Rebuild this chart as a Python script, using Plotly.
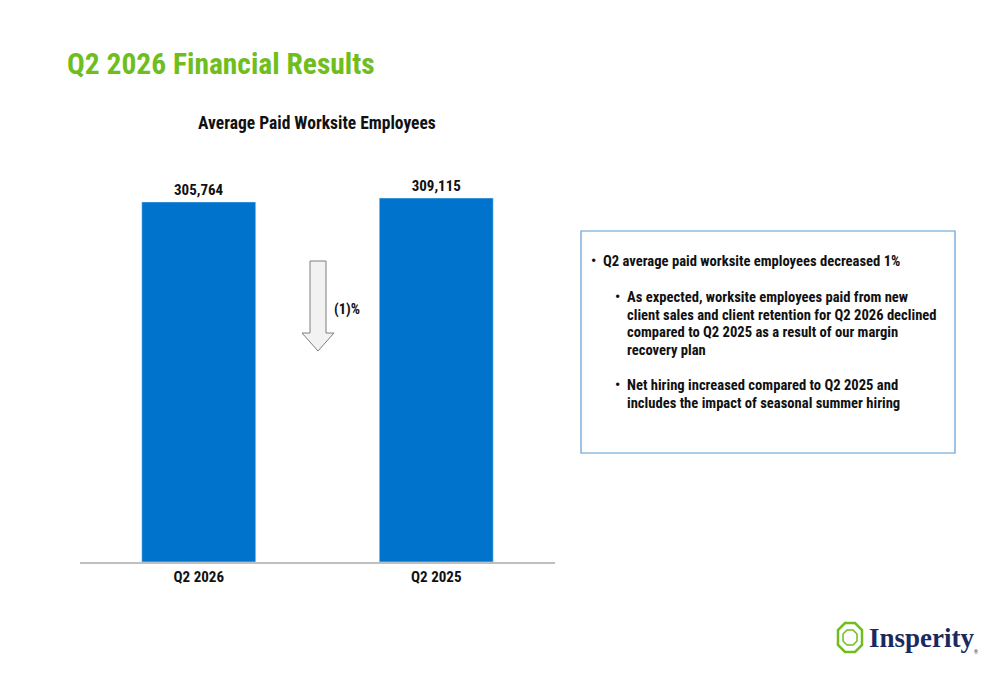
import plotly.graph_objects as go

# data
quarters = ["Q2 2026", "Q2 2025"]
employees = [305764, 309115]
change_label = "(1)%"

title = "Q2 2026 Financial Results"
chart_title = "Average Paid Worksite Employees"
bullets_main = ["Q2 average paid worksite employees decreased 1%"]
bullets_sub1 = ["As expected, worksite employees paid from new",
                "client sales and client retention for Q2 2026 declined",
                "compared to Q2 2025 as a result of our margin",
                "recovery plan"]
bullets_sub2 = ["Net hiring increased compared to Q2 2025 and",
                "includes the impact of seasonal summer hiring"]

# the page puts an 8px margin round the figure
OFF = 8
W, H = 1000 - OFF, 685 - OFF
FONT = "Roboto Condensed, Liberation Sans Narrow, Arial Narrow, sans-serif"
BLUE = "#0074CC"
GREEN = "#6FBE1E"


def px(x):
    return (x - OFF) / W


def py(y):
    return 1 - (y - OFF) / H


fig = go.Figure()
fig.add_trace(go.Bar(
    x=quarters, y=employees, width=0.48, marker_color=BLUE,
    text=[f"{v:,}" for v in employees], textposition="outside",
    texttemplate="<b>%{text}</b>",
    textfont=dict(family=FONT, size=15, color="#111111"),
    cliponaxis=False, hoverinfo="skip"))

anns = []
anns.append(dict(text="<b>" + title + "</b>", x=px(65), y=py(64), xanchor="left", yanchor="middle",
                 font=dict(family=FONT, size=29.5, color=GREEN)))
anns.append(dict(text="<b>" + chart_title + "</b>", x=px(317), y=py(123), xanchor="center", yanchor="middle",
                 font=dict(family=FONT, size=17.5, color="#111111")))
anns.append(dict(text="<b>" + change_label + "</b>", x=px(332), y=py(309), xanchor="left", yanchor="middle",
                 font=dict(family=FONT, size=14.5, color="#111111")))

tf = dict(family=FONT, size=14.6, color="#111111")


def add_lines(lines, bx, tx, y0, step=17.5):
    anns.append(dict(text="<b>•</b>", x=px(bx), y=py(y0), xanchor="left", yanchor="middle", font=tf))
    for i, ln in enumerate(lines):
        anns.append(dict(text="<b>" + ln + "</b>", x=px(tx), y=py(y0 + i * step),
                         xanchor="left", yanchor="middle", font=tf))


add_lines(bullets_main, 589, 601, 261)
add_lines(bullets_sub1, 613, 625, 297)
add_lines(bullets_sub2, 613, 625, 385)

anns.append(dict(text="<b>Insperity</b>", x=px(867), y=py(638), xanchor="left", yanchor="middle",
                 font=dict(family="Liberation Serif, DejaVu Serif, serif", size=27, color="#1B2A5E")))
anns.append(dict(text="®", x=px(972), y=py(652), xanchor="left", yanchor="middle",
                 font=dict(family=FONT, size=5, color="#1B2A5E")))
for a in anns:
    a.update(xref="paper", yref="paper", showarrow=False)

# down arrow
pts = [(310, 261), (326, 261), (326, 333), (334, 333), (318, 351), (302, 333), (310, 333)]
path = "M " + " L ".join(f"{px(x)},{py(y)}" for x, y in pts) + " Z"

# logo icon (octagon outline)
oct_pts = [(845, 623), (855, 623), (862, 630), (862, 645), (855, 652), (845, 652), (838, 645), (838, 630)]
oct_path = "M " + " L ".join(f"{px(x)},{py(y)}" for x, y in oct_pts) + " Z"
inner_pts = [(847, 630), (853, 630), (857, 634), (857, 641), (853, 645), (847, 645), (843, 641), (843, 634)]
inner_path = "M " + " L ".join(f"{px(x)},{py(y)}" for x, y in inner_pts) + " Z"

shapes = [
    dict(type="path", path=path, xref="paper", yref="paper",
         fillcolor="#F2F2F2", line=dict(color="#7F7F7F", width=1)),
    dict(type="rect", x0=px(581), x1=px(955), y0=py(453), y1=py(231), xref="paper", yref="paper",
         line=dict(color="#5B9BD5", width=1.2), fillcolor="rgba(0,0,0,0)"),
    dict(type="path", path=oct_path, xref="paper", yref="paper",
         fillcolor="rgba(0,0,0,0)", line=dict(color=GREEN, width=2.5)),
    dict(type="path", path=inner_path, xref="paper", yref="paper",
         fillcolor="rgba(0,0,0,0)", line=dict(color=GREEN, width=1.5)),
]

fig.update_layout(
    width=W, height=H, margin=dict(l=0, r=0, t=0, b=0),
    paper_bgcolor="white", plot_bgcolor="white", showlegend=False,
    annotations=anns, shapes=shapes,
    xaxis=dict(domain=[px(80), px(555)], range=[-0.5, 1.5], showline=True, linecolor="#BFBFBF",
               linewidth=1.5, ticks="", showgrid=False,
               tickfont=dict(family=FONT, size=15, color="#111111"),
               tickvals=quarters, ticktext=["<b>" + q + "</b>" for q in quarters]),
    yaxis=dict(domain=[py(562), py(160)], range=[0, 309115 * 402 / 364], visible=False,
               showgrid=False, zeroline=False),
)

fig.write_html("out.html")
